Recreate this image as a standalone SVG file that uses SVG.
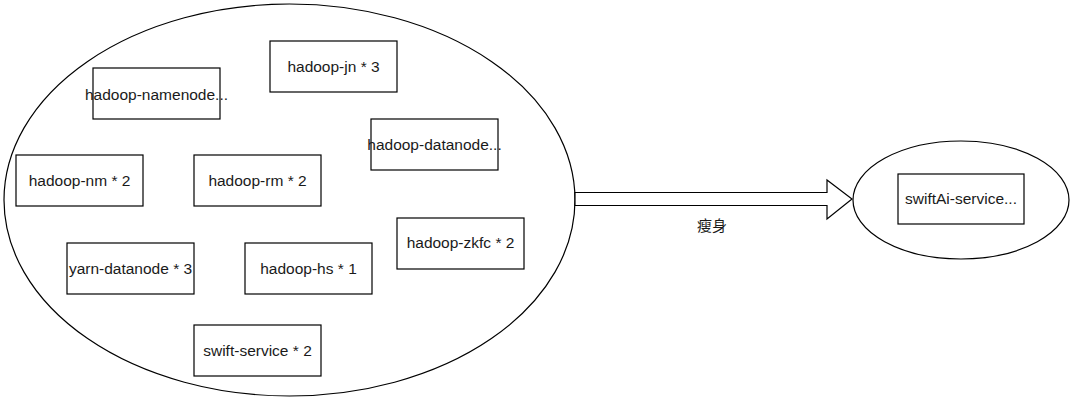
<svg xmlns="http://www.w3.org/2000/svg" width="1080" height="402" viewBox="0 0 1080 402">
<style>
.shape{fill:#ffffff;stroke:#000000;stroke-width:1.2}
.t{font-family:"Liberation Sans",Arial,sans-serif;font-size:15.5px;fill:#1a1a1a;text-anchor:middle}
.cjk{font-family:"Liberation Sans","Noto Sans CJK SC",sans-serif;font-size:15px;fill:#1a1a1a;text-anchor:middle}
</style>
<rect width="1080" height="402" fill="#ffffff"/>
<g id="cluster-left"><ellipse class="shape" cx="289.5" cy="200" rx="285.5" ry="196"/></g>
<g id="cluster-right"><ellipse class="shape" cx="961" cy="200" rx="108" ry="59"/></g>
<g id="connectors">
<path class="shape" d="M575,192.5 L827,192.5 L827,180 L852,199 L827,219 L827,205.5 L575,205.5 Z"/>
<text class="cjk" x="712" y="231">瘦身</text>
</g>
<g id="hadoop-jn"><rect class="shape" x="270" y="41" width="127" height="51"/><text class="t" x="333.5" y="72">hadoop-jn * 3</text></g>
<g id="hadoop-namenode"><rect class="shape" x="93" y="68" width="127" height="51"/><text class="t" x="156.5" y="100">hadoop-namenode...</text></g>
<g id="hadoop-datanode"><rect class="shape" x="371" y="119" width="127" height="51"/><text class="t" x="434.5" y="150">hadoop-datanode...</text></g>
<g id="hadoop-nm"><rect class="shape" x="16" y="155" width="127" height="51"/><text class="t" x="79.5" y="186">hadoop-nm * 2</text></g>
<g id="hadoop-rm"><rect class="shape" x="194" y="155" width="127" height="51"/><text class="t" x="257.5" y="186">hadoop-rm * 2</text></g>
<g id="hadoop-zkfc"><rect class="shape" x="397" y="218" width="127" height="51"/><text class="t" x="460.5" y="248">hadoop-zkfc * 2</text></g>
<g id="yarn-datanode"><rect class="shape" x="67" y="243" width="127" height="51"/><text class="t" x="130.5" y="274">yarn-datanode * 3</text></g>
<g id="hadoop-hs"><rect class="shape" x="245" y="243" width="127" height="51"/><text class="t" x="308.5" y="274">hadoop-hs * 1</text></g>
<g id="swift-service"><rect class="shape" x="194" y="325" width="127" height="51"/><text class="t" x="257.5" y="356">swift-service * 2</text></g>
<g id="swiftAi-service"><rect class="shape" x="898" y="174" width="126" height="50"/><text class="t" x="961" y="204">swiftAi-service...</text></g>
</svg>
